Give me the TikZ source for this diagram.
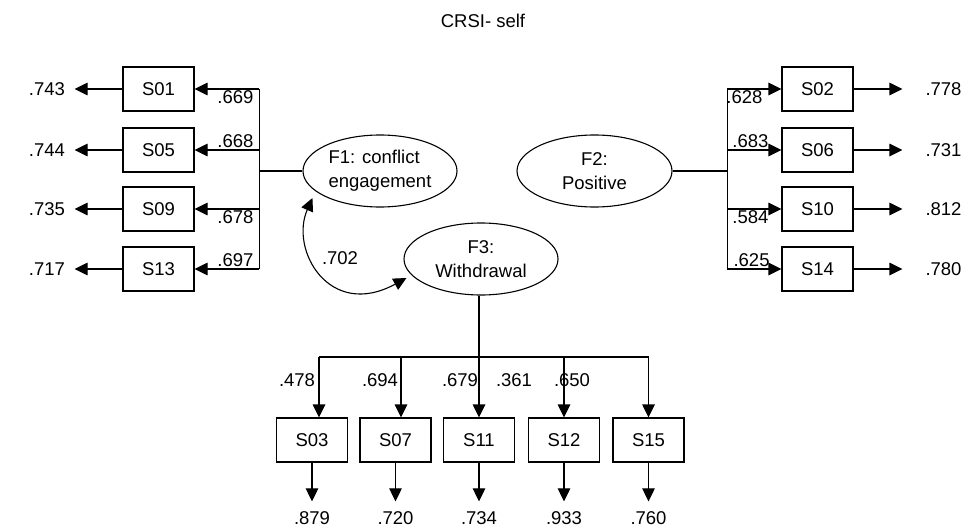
\documentclass[tikz,border=0pt]{standalone}
\usepackage{fontspec}
\setmainfont{Liberation Sans}
\usepackage{tikz}
\usetikzlibrary{positioning}
\usetikzlibrary{arrows.meta,shapes.geometric}

\tikzset{
	item/.style={draw, line width=1.1pt, minimum width=71pt, minimum height=44pt, inner sep=0pt},
	factor/.style={draw, ellipse, line width=1.1pt, minimum width=154pt, minimum height=72pt, inner sep=0pt},
	lbl/.style={inner sep=1.5pt},
	errlbl/.style={inner sep=0pt},
	arr/.style={-{Triangle[length=13pt,width=12.5pt]}, line width=1.1pt},
	arrboth/.style={{Triangle[length=13pt,width=12.5pt]}-{Triangle[length=13pt,width=12.5pt]}, line width=1.1pt},
}

\begin{document}
\begin{tikzpicture}[x=1pt, y=-1pt, font=\fontsize{18.5}{24}\selectfont, line width=1.1pt]
		
		% ---------------------
		% Proper size --- Bounding box
		\useasboundingbox (0,0) rectangle (963,530);
		
		\node (Title) at (483,21) {CRSI- self};
		
		% ---------------------
		% Factors
		\node[factor, align=left] (F1) at (380,171) {F1: conflict\\engagement};
		\node[factor, align=center, minimum width=155pt] (F2) at (594.5,171) {F2:\\Positive};
		\node[factor, align=center] (F3) at (481,259) {F3:\\Withdrawal};
		
		\path (F1.west) +(-43,0) coordinate (JoinL);
		\path (F2.east) +(54.5,0) coordinate (JoinR);
		
		% ---------------------
		% F1 items (left)
		\foreach \name/\y/\load/\err/\side in {S01/89/.669/.743/below, S05/150/.668/.744/above, S09/209/.678/.735/below, S13/269/.697/.717/above}{
			\node[item] (\name) at (158.5,\y) {\name};
			\node[errlbl] (e\name) at (47,\y) {\err};
			\draw[arr, shorten >=9pt] (\name.west) -- (e\name.east);
			\draw[arr] (JoinL |- \name) -- node[lbl, pos=0.37, \side] {\load} (\name.east);
		}
		\draw (F1.west) -- (JoinL);
		\draw (JoinL |- S01) -- (JoinL |- S13);
		
		% ---------------------
		% F2 items (right)
		\foreach \name/\y/\load/\err/\side/\p in {S02/89/.628/.778/below/0.32, S06/150/.683/.731/above/0.43, S10/209/.584/.812/below/0.43, S14/269/.625/.780/above/0.45}{
			\node[item] (\name) at (817.5,\y) {\name};
			\node[errlbl] (e\name) at (943.5,\y) {\err};
			\draw[arr, shorten >=22.5pt] (\name.east) -- (e\name.west);
			\draw[arr] (JoinR |- \name) -- node[lbl, pos=\p, \side] {\load} (\name.west);
		}
		\draw (F2.east) -- (JoinR);
		\draw (JoinR |- S02) -- (JoinR |- S14);
		
		% ---------------------
		% F3 items (bottom)
		\foreach \name/\x/\tx/\err in {S03/312/319/.879, S07/395.5/401/.720, S11/479/479/.734, S12/564/564/.933, S15/648.5/648.5/.760}{
			\node[item] (\name) at (\x,440) {\name};
			\node[errlbl] (e\name) at (\x,518) {\err};
			\coordinate (T\name) at (\tx,357);
			\draw[arr] (T\name) -- (T\name |- \name.north);
			\draw[arr, shorten >=9.5pt] (\name.south) -- (e\name.north);
		}
		\draw (F3.south -| S11) -- (TS11);
		\draw (TS03) -- (TS15);
		
		\foreach \x/\load [count=\i] in {297/.478, 380/.694, 460/.679, 514/.361, 572/.650}
			\node[lbl] (B\i) at (\x,380) {\load};
		
		% ---------------------
		% Correlation F1 -- F3
		\path (F1.west) +(10,27) coordinate (CorrA);
		\path (F3.west) +(3,19) coordinate (CorrB);
		\draw[arrboth] (CorrA) .. controls +(-23,52) and +(-77,42) .. (CorrB);
		\node (Corr) at (340,258) {.702};
		
\end{tikzpicture}
\end{document}
